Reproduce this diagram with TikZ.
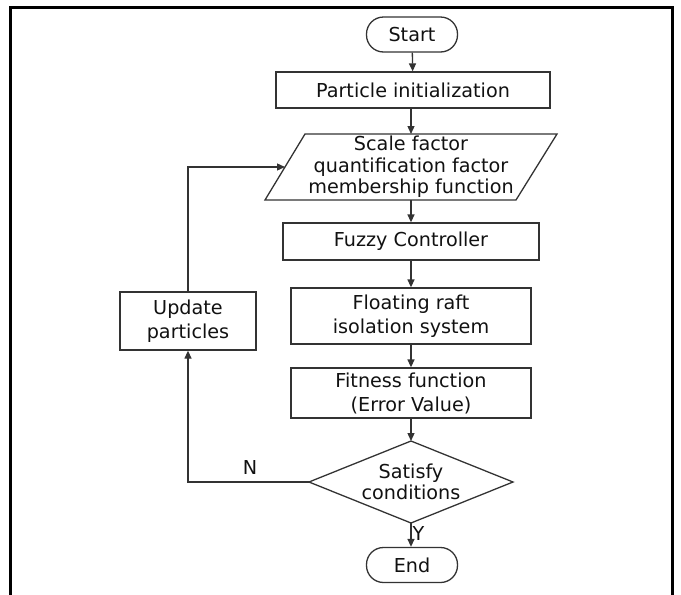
\documentclass[tikz,border=0pt]{standalone}
\usepackage{fontspec}
\setmainfont{DejaVu Sans}
\usetikzlibrary{arrows.meta,calc}
\definecolor{ln}{HTML}{333333}
\definecolor{tx}{HTML}{111111}
\tikzset{
  every node/.style={font=\fontsize{19.2}{21.5}\selectfont, text=tx, align=center},
  wide/.style={font=\fontsize{19.2}{24}\selectfont},
  box/.style={draw=ln, line width=1.3pt, rectangle, inner sep=0pt},
  term/.style={draw=ln, line width=1.3pt, rectangle, rounded corners=17pt, minimum width=91pt, minimum height=35pt, inner sep=0pt},
  conn/.style={draw=ln, line width=1.3pt, -{Triangle[length=8pt,width=7pt]}},
  plain/.style={draw=ln, line width=1.3pt},
}
\begin{document}
\begin{tikzpicture}[x=1pt,y=1pt]
\useasboundingbox (0,0) rectangle (681,-595);
\draw[line width=3pt, black] (10,-597) -- (10,-7) -- (672,-7) -- (672,-597);

\node[term] (start) at (412,-34.5) {Start};
\node[box, minimum width=274pt, minimum height=36pt] (init) at (413,-90) {Particle initialization};
\node[inner sep=0pt] (param) at (411,-167) {Scale factor\\quantification factor\\membership function};
\draw[plain] (265,-200) -- (305,-134) -- (557,-134) -- (516,-200) -- cycle;
\coordinate (ptop) at (411,-134);
\coordinate (pbot) at (411,-200);
\coordinate (pin) at (285,-167);
\node[box, minimum width=256pt, minimum height=37pt] (fuzzy) at (411,-241.5) {Fuzzy Controller};
\node[box, wide, minimum width=240pt, minimum height=56pt] (raft) at (411,-316) {Floating raft\\isolation system};
\node[box, wide, minimum width=240pt, minimum height=50pt] (fit) at (411,-393) {Fitness function\\(Error Value)};
\node[inner sep=0pt] (sat) at (411,-482) {Satisfy\\conditions};
\coordinate (dt) at (411,-441);
\coordinate (db) at (411,-523);
\coordinate (dl) at (309,-482);
\coordinate (dr) at (513,-482);
\draw[plain] (dt) -- (dr) -- (db) -- (dl) -- cycle;
\node[term] (end) at (412,-565) {End};
\node[box, wide, minimum width=136pt, minimum height=58pt] (upd) at (188,-321) {Update\\particles};

\draw[conn] (start) -- (init);
\draw[conn] (init.south -| ptop) -- (ptop);
\draw[conn] (pbot) -- (pbot |- fuzzy.north);
\draw[conn] (fuzzy) -- (raft);
\draw[conn] (raft) -- (fit);
\draw[conn] (fit.south -| dt) -- (dt);
\draw[conn] (db) -- (db |- end.north) node[pos=0.45, right=1pt, inner sep=0pt] (ylab) {Y};
\draw[conn] (dl) -| (upd.south);
\draw[conn] (upd.north) |- (pin);
\node[inner sep=0pt] (nlab) at (250,-467) {N};
\end{tikzpicture}
\end{document}
